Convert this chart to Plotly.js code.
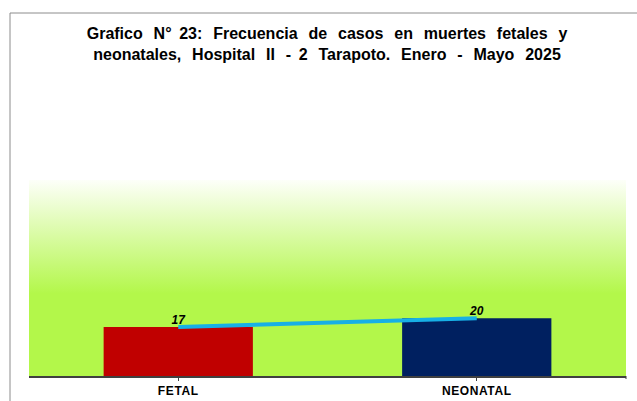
<!DOCTYPE html>
<html>
<head>
<meta charset="utf-8">
<script src="https://cdn.plot.ly/plotly-3.0.1.min.js"></script>
<style>
html,body{margin:0;padding:0;background:#fff;}
#chart{width:637px;height:401px;}
#chart .xtick text{letter-spacing:0.6px;}
</style>
</head>
<body>
<div id="chart"></div>
<script>
const categories = ["FETAL", "NEONATAL"];
const values = [17, 20];
const barColors = ["#C00000", "#002060"];
const titleLine1 = ["Grafico", "N°", "23:", "Frecuencia", "de", "casos", "en", "muertes", "fetales", "y"];
const titleLine2 = ["neonatales,", "Hospital", "II", "-", "2", "Tarapoto.", "Enero", "-", "Mayo", "2025"];

// wider word gaps, as in the reference (regular space + thin spaces)
const wide = " \u2009\u2009", narrow = " \u2009";
const joinWords = (words, narrowAt) => words.map((w, i) => i === 0 ? w : ((narrowAt.includes(i) ? narrow : wide) + w)).join("");
const titleText = joinWords(titleLine1, [2]) + "<br>" + joinWords(titleLine2, [4]);

const W = 637, H = 401;
const M = {l: 29, r: 11, t: 180, b: 25};
const plotW = W - M.l - M.r, plotH = H - M.t - M.b;
const px = v => (v - M.l) / plotW;      // pixel x -> paper
const py = v => (H - M.b - v) / plotH;  // pixel y -> paper

const svg = "<svg xmlns='http://www.w3.org/2000/svg' width='10' height='100' preserveAspectRatio='none'>" +
  "<defs><linearGradient id='g' x1='0' y1='0' x2='0' y2='1'>" +
  "<stop offset='0' stop-color='#fdfff9'/>" +
  "<stop offset='0.58' stop-color='#b3f74a'/>" +
  "<stop offset='1' stop-color='#b3f74a'/>" +
  "</linearGradient></defs><rect width='10' height='100' fill='url(#g)'/></svg>";
const bgSrc = "data:image/svg+xml;charset=utf-8," + encodeURIComponent(svg);

const traces = [
  {
    type: "bar",
    x: categories,
    y: values,
    width: 0.5,
    marker: {color: barColors, line: {width: 0}},
    hoverinfo: "none",
    showlegend: false
  },
  {
    type: "scatter",
    mode: "lines+text",
    x: categories,
    y: values,
    text: values.map(String),
    textposition: "top center",
    textfont: {family: "Liberation Sans, Arial, sans-serif", size: 12, color: "#000", weight: "bold", style: "italic"},
    line: {color: "#17B0E6", width: 4},
    hoverinfo: "none",
    showlegend: false,
    cliponaxis: false
  }
];

const layout = {
  width: W, height: H,
  margin: M,
  paper_bgcolor: "#ffffff",
  plot_bgcolor: "rgba(0,0,0,0)",
  font: {family: "Liberation Sans, Arial, sans-serif", color: "#000"},
  title: {
    text: titleText,
    font: {family: "Liberation Sans, Arial, sans-serif", size: 16, color: "#000", weight: "bold"},
    x: 327 / W, xanchor: "center", xref: "container",
    y: 1 - 39 / H, yanchor: "top", yref: "container"
  },
  xaxis: {
    type: "category",
    range: [-0.5, 1.5],
    showgrid: false,
    zeroline: false,
    showline: true,
    linecolor: "#404040",
    linewidth: 1.5,
    ticks: "outside",
    ticklen: 3,
    tickcolor: "#404040",
    tickwidth: 1,
    tickfont: {family: "Liberation Sans, Arial, sans-serif", size: 12, color: "#000", weight: "bold"},
    fixedrange: true
  },
  yaxis: {
    range: [0, 68],
    visible: false,
    showgrid: false,
    zeroline: false,
    fixedrange: true
  },
  images: [{
    source: bgSrc,
    xref: "paper", yref: "paper",
    x: 0, y: 1, sizex: 1, sizey: 1,
    xanchor: "left", yanchor: "top",
    sizing: "stretch",
    layer: "below"
  }],
  shapes: [
    {type: "line", xref: "paper", yref: "paper", x0: px(10), x1: px(10), y0: py(13), y1: py(H + 5), line: {color: "#8c8c8c", width: 1}},
    {type: "line", xref: "paper", yref: "paper", x0: px(10), x1: px(W + 5), y0: py(13), y1: py(13), line: {color: "#8c8c8c", width: 1}},
    {type: "line", xref: "paper", yref: "paper", x0: 1, x1: 1, y0: 0, y1: py(H - M.b + 3), line: {color: "#404040", width: 1}}
  ]
};

Plotly.newPlot("chart", traces, layout, {displayModeBar: false, staticPlot: true});
</script>
</body>
</html>
